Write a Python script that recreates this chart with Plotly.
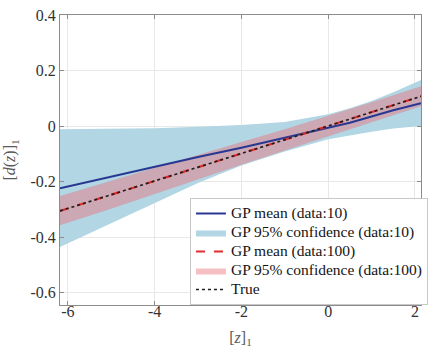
import plotly.graph_objects as go

# ---- data ----
x_pts = [-6.18, -5, -4, -3, -2, -1, 0, 0.5, 1, 1.5, 2.14]

mean10 = [-0.224, -0.182, -0.146, -0.112, -0.078, -0.043, -0.008, 0.012, 0.034, 0.057, 0.082]
upper10 = [-0.012, -0.010, -0.008, -0.003, 0.004, 0.014, 0.042, 0.064, 0.090, 0.122, 0.166]
lower10 = [-0.436, -0.350, -0.278, -0.205, -0.142, -0.092, -0.048, -0.034, -0.021, -0.009, 0.000]

mean100 = [-0.306, -0.248, -0.199, -0.149, -0.099, -0.050, 0.000, 0.025, 0.050, 0.075, 0.107]
upper100 = [-0.252, -0.198, -0.152, -0.105, -0.058, -0.012, 0.036, 0.061, 0.086, 0.111, 0.143]
lower100 = [-0.358, -0.298, -0.246, -0.193, -0.140, -0.088, -0.036, -0.011, 0.014, 0.039, 0.071]

true_vals = [-0.306, -0.248, -0.199, -0.149, -0.099, -0.050, 0.000, 0.025, 0.050, 0.075, 0.107]

x_ticks = [-6, -4, -2, 0, 2]
x_ticklabels = ["-6", "-4", "-2", "0", "2"]
y_ticks = [0.4, 0.2, 0, -0.2, -0.4, -0.6]
y_ticklabels = ["0.4", "0.2", "0", "-0.2", "-0.4", "-0.6"]

legend_names = [
    "GP mean (data:10)",
    "GP 95% confidence (data:10)",
    "GP mean (data:100)",
    "GP 95% confidence (data:100)",
    "True",
]

SERIF = "Liberation Serif, Times New Roman, serif"


def lg(name):
    return '<span style="font-size:15.5px">' + name + "</span>"


fig = go.Figure()

# blue confidence band (data:10)
fig.add_trace(go.Scatter(
    x=x_pts + x_pts[::-1], y=upper10 + lower10[::-1],
    fill="toself", fillcolor="rgb(178,214,227)", mode="lines",
    line=dict(width=0), name=lg(legend_names[1]), legendrank=2,
    hoverinfo="skip"))

# red confidence band (data:100)
fig.add_trace(go.Scatter(
    x=x_pts + x_pts[::-1], y=upper100 + lower100[::-1],
    fill="toself", fillcolor="rgba(232,112,122,0.45)", mode="lines",
    line=dict(width=0), name=lg(legend_names[3]), legendrank=4,
    hoverinfo="skip"))

# GP mean (data:10)
fig.add_trace(go.Scatter(
    x=x_pts, y=mean10, mode="lines", line=dict(color="rgb(40,55,145)", width=2),
    name=lg(legend_names[0]), legendrank=1))

# GP mean (data:100)
fig.add_trace(go.Scatter(
    x=x_pts, y=mean100, mode="lines",
    line=dict(color="rgb(225,45,45)", width=2.2, dash="dash"),
    name=lg(legend_names[2]), legendrank=3))

# True
fig.add_trace(go.Scatter(
    x=x_pts, y=true_vals, mode="lines",
    line=dict(color="rgb(30,30,30)", width=1.6, dash="dot"),
    name=lg(legend_names[4]), legendrank=5))

axis_common = dict(
    showline=True, mirror="ticks", linecolor="rgb(140,140,140)", linewidth=1,
    ticks="inside", ticklen=4, tickcolor="rgb(140,140,140)",
    showgrid=True, gridcolor="rgb(232,232,232)", gridwidth=1,
    zeroline=False, tickfont=dict(family=SERIF, size=16, color="rgb(50,50,50)"),
)

fig.update_xaxes(
    range=[-6.18, 2.14], tickvals=x_ticks, ticktext=x_ticklabels,
    ticklabelstandoff=-8,
    title=dict(text="[<i>z</i>]<sub>1</sub>", font=dict(family=SERIF, size=16, color="rgb(90,90,90)"), standoff=15),
    automargin=False,
    **axis_common)
fig.update_yaxes(
    range=[-0.645, 0.4], tickvals=y_ticks, ticktext=y_ticklabels,
    title=dict(text="[<i>d</i>(<i>z</i>)]<sub>1</sub>", font=dict(family=SERIF, size=16, color="rgb(90,90,90)"), standoff=10),
    automargin=False,
    **axis_common)

fig.update_layout(
    width=429, height=348,
    margin=dict(l=60, r=1, t=15, b=43),
    paper_bgcolor="white", plot_bgcolor="white",
    font=dict(family=SERIF),
    showlegend=True,
    legend=dict(
        x=0.36, y=0.369, xanchor="left", yanchor="top",
        bgcolor="white", bordercolor="rgb(200,200,200)", borderwidth=1,
        font=dict(family=SERIF, size=11.5, color="rgb(20,20,20)"),
        tracegroupgap=0, itemwidth=30,
    ),
)

fig.write_html("out.html", config={"displayModeBar": False},
               post_script="document.body.style.margin='0px';")
